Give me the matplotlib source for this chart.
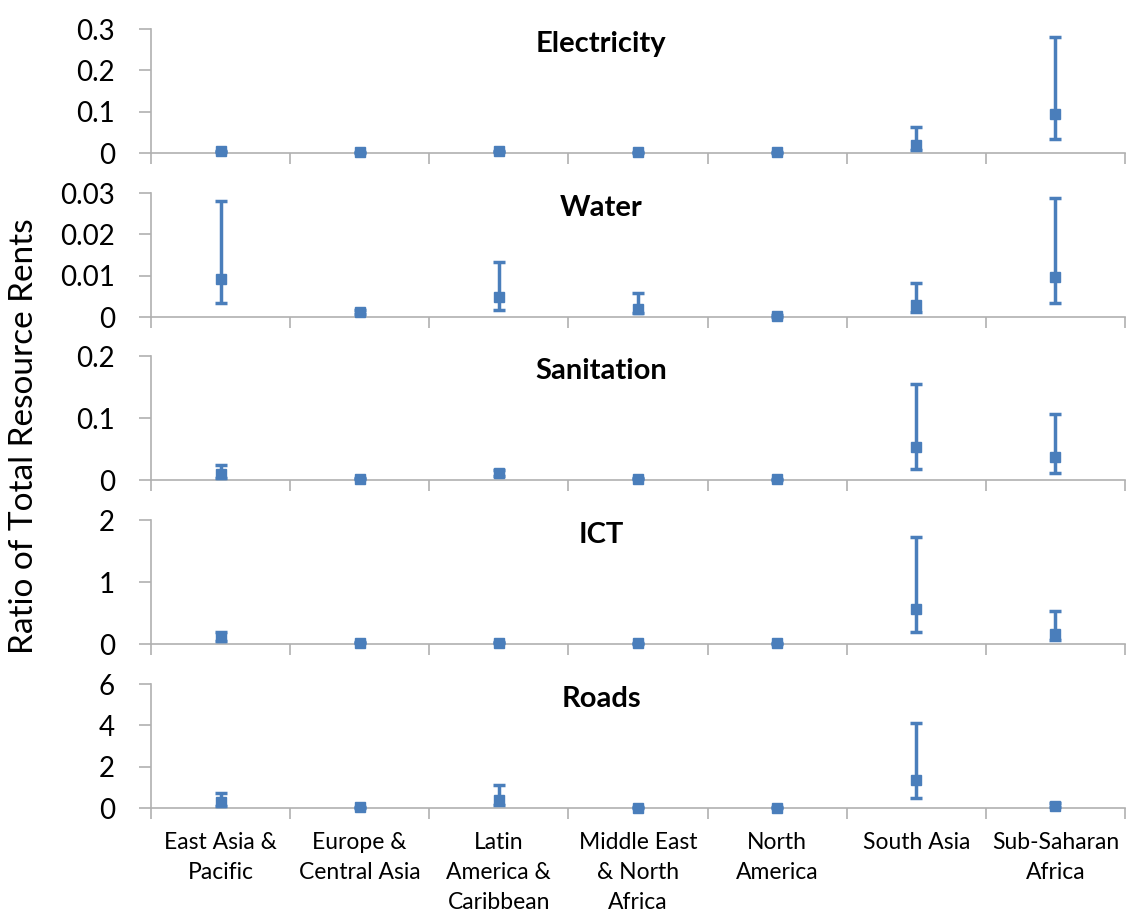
import matplotlib
matplotlib.use("Agg")
import matplotlib.pyplot as plt
import numpy as np

plt.rcParams["font.family"] = ["Lato", "DejaVu Sans"]

regions = ["East Asia &\nPacific", "Europe &\nCentral Asia", "Latin\nAmerica &\nCaribbean",
           "Middle East\n& North\nAfrica", "North\nAmerica", "South Asia", "Sub-Saharan\nAfrica"]
panels = ["Electricity", "Water", "Sanitation", "ICT", "Roads"]

# point estimate, lower and upper bound per region
elec_mid = [0.004, 0.002, 0.004, 0.002, 0.002, 0.020, 0.095]
elec_low = [0.003, 0.001, 0.003, 0.001, 0.001, 0.008, 0.033]
elec_high = [0.006, 0.003, 0.006, 0.003, 0.003, 0.062, 0.280]

water_mid = [0.0093, 0.0012, 0.0048, 0.0020, 0.0003, 0.0029, 0.0096]
water_low = [0.0033, 0.0008, 0.0017, 0.0010, 0.0001, 0.0011, 0.0033]
water_high = [0.0280, 0.0016, 0.0133, 0.0057, 0.0005, 0.0082, 0.0287]

san_mid = [0.010, 0.002, 0.011, 0.002, 0.001, 0.053, 0.037]
san_low = [0.004, 0.001, 0.006, 0.001, 0.0005, 0.018, 0.012]
san_high = [0.024, 0.003, 0.016, 0.003, 0.0015, 0.155, 0.107]

ict_mid = [0.12, 0.02, 0.02, 0.01, 0.01, 0.57, 0.16]
ict_low = [0.05, 0.01, 0.01, 0.005, 0.005, 0.20, 0.07]
ict_high = [0.19, 0.04, 0.04, 0.02, 0.02, 1.73, 0.53]

roads_mid = [0.30, 0.03, 0.40, 0.02, 0.02, 1.35, 0.12]
roads_low = [0.10, 0.01, 0.15, 0.01, 0.01, 0.48, 0.05]
roads_high = [0.75, 0.06, 1.10, 0.04, 0.04, 4.10, 0.22]

ytops = [0.3, 0.03, 0.2, 2, 6]
ysteps = [0.1, 0.01, 0.1, 1, 2]

data = [(elec_mid, elec_low, elec_high), (water_mid, water_low, water_high),
        (san_mid, san_low, san_high), (ict_mid, ict_low, ict_high),
        (roads_mid, roads_low, roads_high)]

color = "#4a7ebb"
grey = "#b0b0b0"

fig = plt.figure(figsize=(11.29, 9.13), dpi=100)
left, width = 151 / 1129, (1125 - 151) / 1129
tops_px = [29, 193, 356, 520, 684]
h_px = 124

x = np.arange(len(regions))
for i, (name, (mid, lo, hi)) in enumerate(zip(panels, data)):
    bottom = 1 - (tops_px[i] + h_px) / 913
    ax = fig.add_axes([left, bottom, width, h_px / 913])
    mid = np.array(mid); lo = np.array(lo); hi = np.array(hi)
    ax.errorbar(x, mid, yerr=[mid - lo, hi - mid], fmt="s", color=color,
                markersize=7.5, elinewidth=2.5, capsize=4, capthick=2.5,
                clip_on=False, zorder=3)
    ax.set_xlim(-0.5, len(regions) - 0.5)
    ax.set_ylim(0, ytops[i])
    ax.set_yticks(np.arange(0, ytops[i] + ysteps[i] / 2, ysteps[i]))
    ax.yaxis.set_major_formatter(plt.FuncFormatter(lambda v, p: "0" if v == 0 else f"{v:g}"))
    ax.set_xticks(np.arange(-0.5, len(regions), 1.0))
    ax.set_xticklabels([])
    ax.set_xticks(x, minor=True)
    ax.tick_params(axis="x", which="major", length=8, color=grey, width=1.2)
    ax.tick_params(axis="x", which="minor", length=0)
    ax.tick_params(axis="y", length=9, color=grey, width=1.2, labelsize=20, pad=17)
    for s in ["top", "right"]:
        ax.spines[s].set_visible(False)
    for s in ["left", "bottom"]:
        ax.spines[s].set_color(grey)
        ax.spines[s].set_linewidth(1.2)
    ax.text(0.462, 0.88, name, transform=ax.transAxes, ha="center", va="center",
            fontsize=21, fontweight="bold")
    if i == len(panels) - 1:
        ax.set_xticklabels(regions, minor=True, fontsize=16.5, linespacing=1.55, va="top")
        ax.tick_params(axis="x", which="minor", pad=17)

fig.text(0.021, 0.522, "Ratio of Total Resource Rents", rotation=90,
         ha="center", va="center", fontsize=24)

fig.savefig("out.png", dpi=100)
